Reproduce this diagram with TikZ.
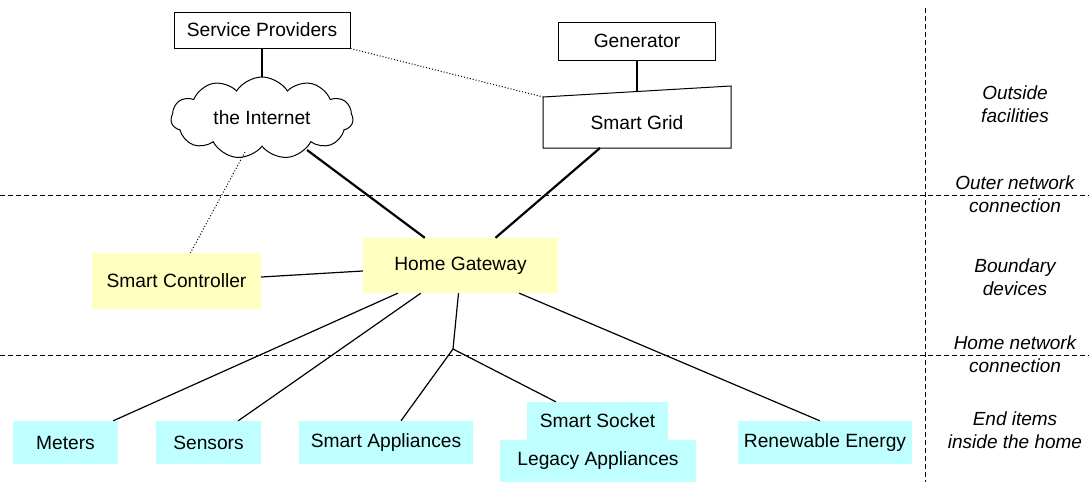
\documentclass[tikz,border=0pt]{standalone}
\usepackage{fontspec}
\setmainfont{Liberation Sans}
\usetikzlibrary{shapes, shapes.symbols, calc, positioning}
\definecolor{gwyellow}{rgb}{1.0, 1.0, 0.753}
\definecolor{itemcyan}{rgb}{0.753, 1.0, 1.0}

\begin{document}
\begin{tikzpicture}[x=1pt, y=-1pt, every node/.style={font=\fontsize{19.2}{22}\selectfont},
        box/.style={draw, line width=1pt, inner sep=0pt},
        boundary/.style={fill=gwyellow, inner sep=0pt},
        item/.style={fill=itemcyan, inner sep=0pt, minimum height=43pt},
        layer/.style={font=\fontsize{19}{23}\selectfont\itshape, align=center},
        thickline/.style={line width=2.2pt},
        thinline/.style={line width=1.2pt},
        dotline/.style={line width=1pt, dotted},
        sep/.style={line width=0.9pt, dash pattern=on 5pt off 3pt}]
        \useasboundingbox (0,0) rectangle (1089,482);

        % outside facilities
        \node[box, minimum width=176, minimum height=36] (sp) at (262,30) {Service Providers};
        \node[box, minimum width=157, minimum height=38] (gen) at (637,41) {Generator};
        \node[cloud, draw, line width=1pt, cloud puffs=11, cloud puff arc=115, aspect=2.2,
              minimum width=182, minimum height=82, inner sep=0pt] (inet) at (262,118) {the Internet};
        \node[inner sep=0pt] (grid) at (637,123) {Smart Grid};
        \coordinate (gtl) at (543,97);
        \coordinate (gtr) at (731,86);
        \coordinate (gtop) at (637,91.5);
        \draw[line width=1pt] (gtl) -- (gtr) -- (731,148) -- (543,148) -- cycle;

        % boundary devices
        \node[boundary, minimum width=195, minimum height=55] (gw) at (460.5,265.5) {Home Gateway};
        \node[boundary, minimum width=169, minimum height=56] (ctl) at (176.5,281) {Smart Controller};

        % end items
        \node[item, minimum width=105] (met) at (65.5,442.5) {Meters};
        \node[item, minimum width=105] (sen) at (208.5,442.5) {Sensors};
        \node[item, minimum width=174] (app) at (386,442.5) {Smart Appliances};
        \node[item, minimum width=141, minimum height=38] (sock) at (597.5,421) {Smart Socket};
        \node[item, minimum width=196, minimum height=42] (leg) at (598,461) {Legacy Appliances};
        \node[item, minimum width=174] (ren) at (825,442.5) {Renewable Energy};
        \coordinate (junc) at (453,349);

        % layers
        \draw[sep] (0,195) -- (1089,195);
        \draw[sep] (0,355) -- (1089,355);
        \draw[sep] (925,8) -- (925,482);
        \node[layer] (l1) at (1015,104.5) {Outside\\facilities};
        \node[layer] (l2) at (1015,194.5) {Outer network\\connection};
        \node[layer] (l3) at (1015,277) {Boundary\\devices};
        \node[layer] (l4) at (1015,354.5) {Home network\\connection};
        \node[layer] (l5) at (1015,430.5) {End items\\inside the home};

        % connections
        \draw[thickline] (sp.south) -- (inet.north);
        \draw[thickline] (gen.south) -- (gtop);
        \draw[dotline] (sp.south east) -- (gtl);
        \draw[dotline] ($(inet.center)+(-17,34)$) -- ($(ctl.north)+(14,0)$);
        \draw[thickline] ($(inet.center)+(45,32)$) -- ($(gw.north west)+(62,0)$);
        \draw[thickline] ($(grid.center)+(-37,25)$) -- ($(gw.north)+(35,0)$);
        \draw[thinline] ($(ctl.east)+(0,-4)$) -- ($(gw.west)+(0,5.5)$);
        \draw[thinline] ($(gw.south west)+(35,0)$) -- ($(met.north east)+(-5,0)$);
        \draw[thinline] ($(gw.south west)+(58,0)$) -- ($(sen.north east)+(-23,0)$);
        \draw[thinline] ($(gw.south)+(-2,0)$) -- (junc);
        \draw[thinline] (junc) -- ($(app.north)+(15,0)$);
        \draw[thinline] (junc) -- ($(sock.north west)+(29,0)$);
        \draw[thinline] ($(gw.south east)+(-39,0)$) -- ($(ren.north west)+(82,0)$);
    \end{tikzpicture}
\end{document}
